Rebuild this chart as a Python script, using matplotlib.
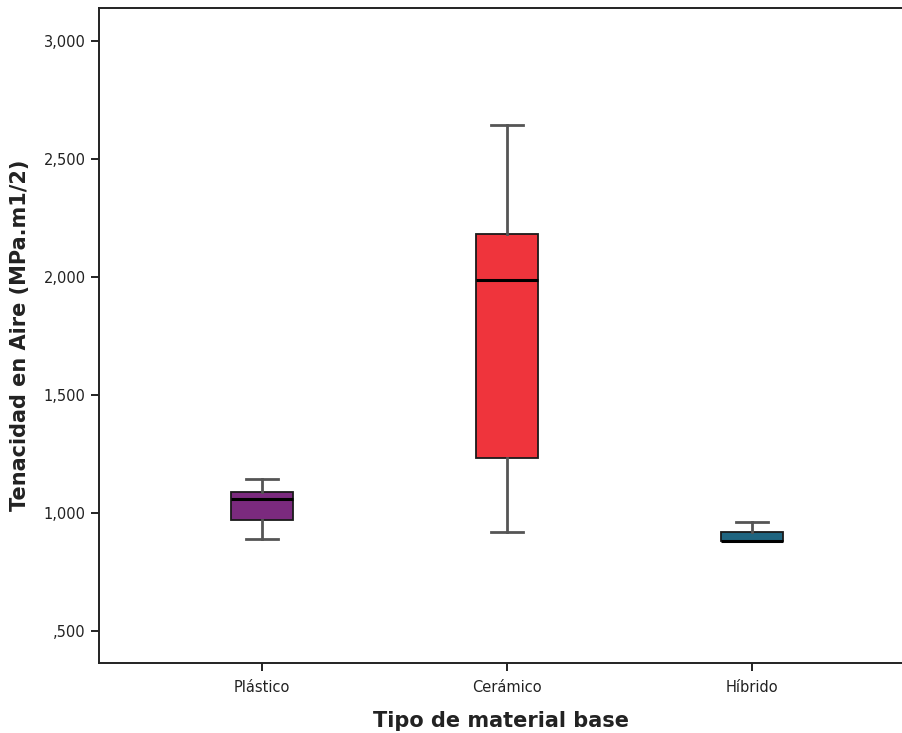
import matplotlib
matplotlib.use("Agg")
import matplotlib.pyplot as plt
from matplotlib.ticker import FixedLocator, FixedFormatter

categories = ["Plástico", "Cerámico", "Híbrido"]
whislo = [0.890, 0.921, 0.881]
q1 = [0.970, 1.234, 0.881]
med = [1.061, 1.987, 0.881]
q3 = [1.090, 2.181, 0.921]
whishi = [1.142, 2.643, 0.961]
colors = ["#7B2A7E", "#EF343C", "#1F6580"]

ytick_vals = [0.5, 1.0, 1.5, 2.0, 2.5, 3.0]
ytick_labels = [",500", "1,000", "1,500", "2,000", "2,500", "3,000"]

plt.rcParams['font.family'] = ['DejaVu Sans']

fig = plt.figure(figsize=(9.03, 7.33), dpi=100)
W, H = 903, 733
left, top, bottom = 99, 8, 663
xmin = 1 - (262 - left) / 245
xmax = 3 + (W - 752) / 245
ax = fig.add_axes([left / W, 1 - bottom / H, (W - left) / W, (bottom - top) / H])

stats = []
for i, c in enumerate(categories):
    stats.append(dict(label=c, whislo=whislo[i], q1=q1[i], med=med[i],
                      q3=q3[i], whishi=whishi[i], fliers=[]))
positions = list(range(1, len(categories) + 1))
bp = ax.bxp(stats, positions=positions, widths=0.25, patch_artist=True,
            showfliers=False, capwidths=0.127,
            boxprops=dict(edgecolor="#1a1a1a", linewidth=1.3),
            medianprops=dict(color="black", linewidth=2.2),
            whiskerprops=dict(color="#555555", linewidth=2.0),
            capprops=dict(color="#555555", linewidth=2.0))
for patch, col in zip(bp['boxes'], colors):
    patch.set_facecolor(col)

ax.set_xlim(xmin, xmax)
ymin = 1 - (bottom - 513) / 236
ymax = 1 + (513 - top) / 236
ax.set_ylim(ymin, ymax)

ax.yaxis.set_major_locator(FixedLocator(ytick_vals))
ax.yaxis.set_major_formatter(FixedFormatter(ytick_labels))
ax.set_xticks(positions)
ax.set_xticklabels(categories)

for s in ["left", "bottom", "top"]:
    ax.spines[s].set_linewidth(1.4)
    ax.spines[s].set_color("#222222")
ax.spines["right"].set_visible(False)
ax.tick_params(axis="both", direction="out", length=6, width=1.4, color="#222222",
               labelsize=10.5, labelcolor="#222222")
ax.tick_params(axis="x", pad=6)

ax.set_xlabel("Tipo de material base", fontsize=15, fontweight="bold", color="#222222", labelpad=12)
ax.set_ylabel("Tenacidad en Aire (MPa.m1/2)", fontsize=15, fontweight="bold", color="#222222", labelpad=10)

fig.savefig("out.png", dpi=100)
